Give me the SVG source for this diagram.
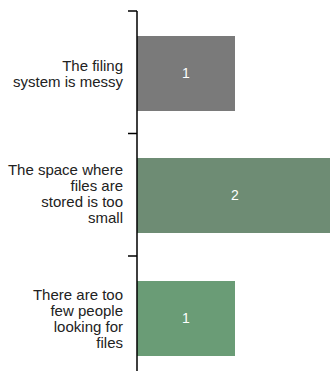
<svg xmlns="http://www.w3.org/2000/svg" width="330" height="371" viewBox="0 0 330 371">
<style>
.lbl{font-family:"Liberation Sans",Arial,sans-serif;font-size:15px;fill:#222;text-anchor:end}
.val{font-family:"Liberation Sans",Arial,sans-serif;font-size:14px;fill:#fff;text-anchor:middle}
.ax{stroke:#000;stroke-width:1.5;fill:none}
</style>
<rect width="330" height="371" fill="#fff"/>
<g id="bar1">
<rect x="137" y="36" width="98" height="75" fill="#7a7a7a"/>
<text class="val" x="186" y="78">1</text>
<text class="lbl" x="123"><tspan x="123" y="71">The filing</tspan><tspan x="123" y="87">system is messy</tspan></text>
</g>
<g id="bar2">
<rect x="137" y="158" width="196" height="75" fill="#6e8c74"/>
<text class="val" x="235" y="200">2</text>
<text class="lbl" x="123"><tspan x="123" y="175">The space where</tspan><tspan x="123" y="191">files are</tspan><tspan x="123" y="207">stored is too</tspan><tspan x="123" y="223">small</tspan></text>
</g>
<g id="bar3">
<rect x="137" y="281" width="98" height="75" fill="#6a9c76"/>
<text class="val" x="186" y="323">1</text>
<text class="lbl" x="123"><tspan x="123" y="300">There are too</tspan><tspan x="123" y="316">few people</tspan><tspan x="123" y="332">looking for</tspan><tspan x="123" y="348">files</tspan></text>
</g>
<g id="axis">
<path class="ax" d="M137 11 V371 M128 11 H137 M128 133.5 H137 M128 256 H137"/>
</g>
</svg>
